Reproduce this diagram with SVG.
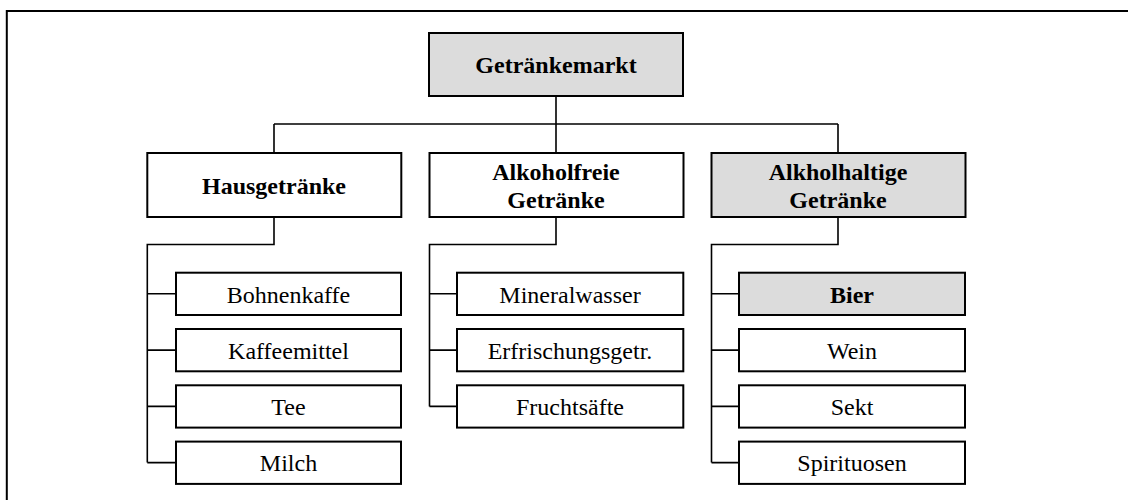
<svg xmlns="http://www.w3.org/2000/svg" width="1128" height="500" viewBox="0 0 1128 500">
<style>
.box{fill:#ffffff;stroke:#000;stroke-width:2}
.gray{fill:#dcdcdc}
text{font-family:'Liberation Serif','Times New Roman','DejaVu Serif',serif;font-size:24px;fill:#000;text-anchor:middle}
.b{font-weight:bold}
.con{fill:none;stroke:#000;stroke-width:1.6}
.frame{fill:none;stroke:#000;stroke-width:2}
</style>
<rect x="0" y="0" width="1128" height="500" fill="#ffffff"/>
<path class="frame" d="M6.8,510 V11 H1140"/>
<g id="connectors">
<path class="con" d="M556,96 V124 M274,124 H838 M274,124 V153 M556,124 V153 M838,124 V153"/>
<path class="con" d="M274,217 V244.5 H147.3 V462.6 M147.3,293.8 H176 M147.3,350.1 H176 M147.3,406.4 H176 M147.3,462.6 H176"/>
<path class="con" d="M556,217 V244.5 H429.5 V406.4 M429.5,293.8 H457 M429.5,350.1 H457 M429.5,406.4 H457"/>
<path class="con" d="M838,217 V244.5 H711.5 V462.6 M711.5,293.8 H739 M711.5,350.1 H739 M711.5,406.4 H739 M711.5,462.6 H739"/>
</g>
<g id="getraenkemarkt"><rect class="box gray" x="429" y="33" width="254" height="63"/><text class="b" x="556" y="73" font-family="Liberation Serif, serif">Getränkemarkt</text></g>
<g id="hausgetraenke"><rect class="box" x="147.3" y="153" width="254" height="64"/><text class="b" x="274" y="193.5" font-family="Liberation Serif, serif">Hausgetränke</text></g>
<g id="alkoholfreie"><rect class="box" x="429.5" y="153" width="254" height="64"/><text class="b" x="556" y="180" font-family="Liberation Serif, serif">Alkoholfreie</text><text class="b" x="556" y="208" font-family="Liberation Serif, serif">Getränke</text></g>
<g id="alkoholhaltige"><rect class="box gray" x="711.5" y="153" width="254" height="64"/><text class="b" x="838" y="180" font-family="Liberation Serif, serif">Alkholhaltige</text><text class="b" x="838" y="208" font-family="Liberation Serif, serif">Getränke</text></g>
<g id="bohnenkaffe"><rect class="box" x="176" y="272.7" width="225" height="42.3"/><text x="288.5" y="302.5" font-family="Liberation Serif, serif">Bohnenkaffe</text></g>
<g id="kaffeemittel"><rect class="box" x="176" y="329" width="225" height="42.3"/><text x="288.5" y="358.8" font-family="Liberation Serif, serif">Kaffeemittel</text></g>
<g id="tee"><rect class="box" x="176" y="385.3" width="225" height="42.3"/><text x="288.5" y="415.1" font-family="Liberation Serif, serif">Tee</text></g>
<g id="milch"><rect class="box" x="176" y="441.6" width="225" height="42.3"/><text x="288.5" y="471.4" font-family="Liberation Serif, serif">Milch</text></g>
<g id="mineralwasser"><rect class="box" x="457" y="272.7" width="226.3" height="42.3"/><text x="570" y="302.5" font-family="Liberation Serif, serif">Mineralwasser</text></g>
<g id="erfrischungsgetr"><rect class="box" x="457" y="329" width="226.3" height="42.3"/><text x="570" y="358.8" font-family="Liberation Serif, serif">Erfrischungsgetr.</text></g>
<g id="fruchtsaefte"><rect class="box" x="457" y="385.3" width="226.3" height="42.3"/><text x="570" y="415.1" font-family="Liberation Serif, serif">Fruchtsäfte</text></g>
<g id="bier"><rect class="box gray" x="739" y="272.7" width="226" height="42.3"/><text class="b" x="852" y="302.5" font-family="Liberation Serif, serif">Bier</text></g>
<g id="wein"><rect class="box" x="739" y="329" width="226" height="42.3"/><text x="852" y="358.8" font-family="Liberation Serif, serif">Wein</text></g>
<g id="sekt"><rect class="box" x="739" y="385.3" width="226" height="42.3"/><text x="852" y="415.1" font-family="Liberation Serif, serif">Sekt</text></g>
<g id="spirituosen"><rect class="box" x="739" y="441.6" width="226" height="42.3"/><text x="852" y="471.4" font-family="Liberation Serif, serif">Spirituosen</text></g>
</svg>
